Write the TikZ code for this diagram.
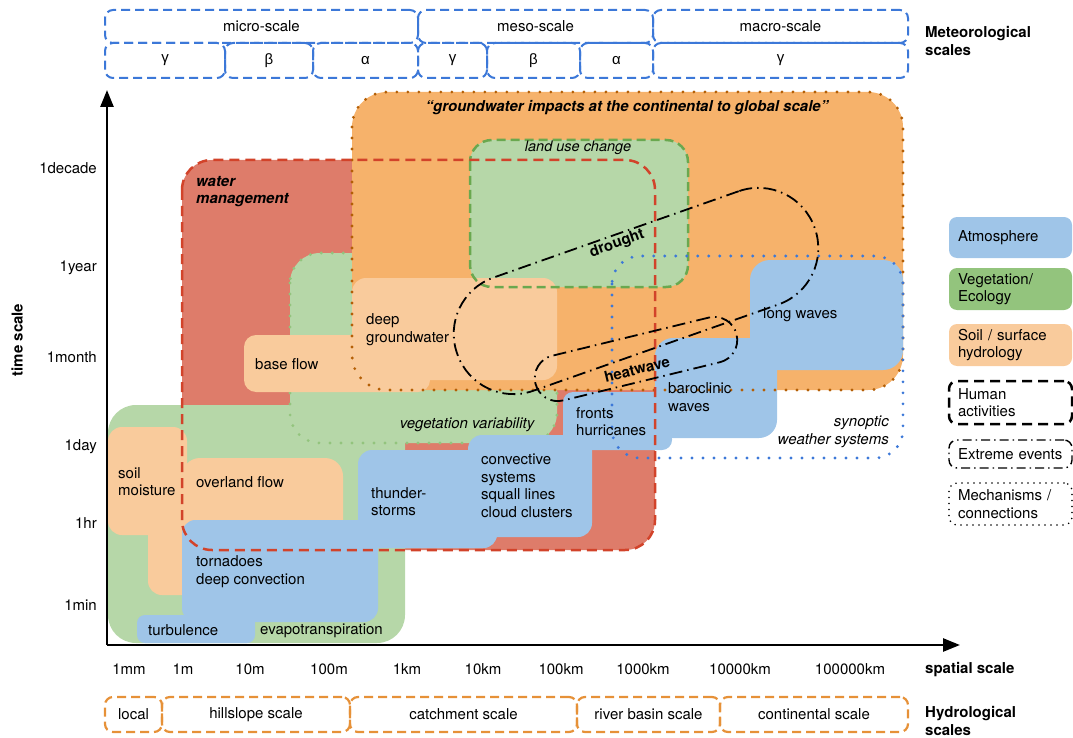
\documentclass[tikz,border=0pt]{standalone}
\usepackage{fontspec}
\setmainfont{TeX Gyre Heros}
\newfontfamily\greekfont{Liberation Sans}
\usetikzlibrary{arrows.meta}

\definecolor{atmo}{HTML}{9FC5E8}
\definecolor{vege}{HTML}{B6D7A8}
\definecolor{vegeleg}{HTML}{93C47D}
\definecolor{soil}{HTML}{F9CB9C}
\definecolor{gwfill}{HTML}{F6B26B}
\definecolor{wmfill}{HTML}{DE7C6A}
\definecolor{wmline}{HTML}{D2432A}
\definecolor{luline}{HTML}{6AA84F}
\definecolor{gwline}{HTML}{B45F06}
\definecolor{metline}{HTML}{3C78D8}
\definecolor{hydline}{HTML}{E69138}

\begin{document}
\begin{tikzpicture}[x=1pt,y=-1pt,font=\fontsize{15}{17.5}\selectfont]
	\tikzstyle{metbox}=[draw=metline, line width=2pt, dash pattern=on 9pt off 5pt, rounded corners=8pt, inner sep=0pt]
	\tikzstyle{hydbox}=[draw=hydline, line width=2.2pt, dash pattern=on 9pt off 5pt, rounded corners=8pt, inner sep=0pt, minimum height=35pt]
	\tikzstyle{legbox}=[rounded corners=8pt, inner xsep=9pt, inner ysep=0pt, text width=105pt, align=left]
	\tikzstyle{lbl}=[inner sep=0pt, anchor=west, align=left]
	\tikzstyle{tick}=[inner sep=0pt]
	\tikzstyle{axis}=[line width=2.6pt, -{Triangle[length=17pt,width=13pt]}]
	\tikzstyle{humanline}=[line width=2.5pt, dash pattern=on 10pt off 6pt]
	\tikzstyle{mechline}=[line width=3.2pt, line cap=round, dash pattern=on 0pt off 11pt]
	\tikzstyle{extremeline}=[draw=black, line width=1.8pt, dash pattern=on 13pt off 5pt on 1.5pt off 5pt]

	\useasboundingbox (0,0) rectangle (1073,738);

	% meteorological scales
	\node[metbox, minimum width=313pt, minimum height=33pt] (micro) at (261.5,26.5) {micro-scale};
	\node[metbox, minimum width=235pt, minimum height=33pt] (meso) at (535.5,26.5) {meso-scale};
	\node[metbox, minimum width=255pt, minimum height=33pt] (macro) at (780.5,26.5) {macro-scale};
	\node[metbox, minimum width=120pt, minimum height=35pt] (microg) at (165,60.5) {\greekfont γ};
	\node[metbox, minimum width=88pt, minimum height=35pt] (microb) at (269,60.5) {\greekfont β};
	\node[metbox, minimum width=105pt, minimum height=35pt] (microa) at (365.5,60.5) {\greekfont α};
	\node[metbox, minimum width=69pt, minimum height=35pt] (mesog) at (452.5,60.5) {\greekfont γ};
	\node[metbox, minimum width=93pt, minimum height=35pt] (mesob) at (533.5,60.5) {\greekfont β};
	\node[metbox, minimum width=73pt, minimum height=35pt] (mesoa) at (616.5,60.5) {\greekfont α};
	\node[metbox, minimum width=255pt, minimum height=35pt] (macrog) at (780.5,60.5) {\greekfont γ};
	\node[lbl, font=\fontsize{15}{17.5}\selectfont\bfseries] (metlabel) at (925,41) {Meteorological\\scales};

	% water management (fill)
	\fill[wmfill, rounded corners=30pt] (182,160) rectangle (655,550);
	% vegetation
	\fill[vege, rounded corners=28pt] (108,405) rectangle (405,643);
	\draw[vegeleg, mechline, fill=vege, rounded corners=30pt] (290,253) rectangle (557,443);
	% groundwater impacts (fill)
	\fill[gwfill, rounded corners=35pt] (352,92) rectangle (903,390);
	\fill[vege, rounded corners=22pt] (470,140) rectangle (688,287);
	% soil / surface hydrology
	\fill[soil, rounded corners=14pt] (352,278) rectangle (557,380);
	\fill[soil, rounded corners=12pt] (244,335) rectangle (430,392);
	\fill[soil, rounded corners=14pt] (108,427) rectangle (187,535);
	\fill[soil, rounded corners=14pt] (148,480) rectangle (200,595);
	\fill[soil, rounded corners=18pt] (182,458) rectangle (343,540);
	% atmosphere
	\fill[atmo, rounded corners=8pt] (137,615) rectangle (255,643);
	\fill[atmo, rounded corners=14pt] (182,520) rectangle (378,622);
	\fill[atmo, rounded corners=14pt] (182,520) rectangle (497,548);
	\fill[atmo, rounded corners=14pt] (358,450) rectangle (497,548);
	\fill[atmo, rounded corners=14pt] (468,435) rectangle (592,537);
	\fill[atmo, rounded corners=10pt] (563,392) rectangle (672,450);
	\fill[atmo, rounded corners=18pt] (655,338) rectangle (777,438);
	\fill[atmo, rounded corners=20pt] (750,260) rectangle (903,370);

	% borders
	\draw[gwline, mechline, rounded corners=35pt] (352,92) rectangle (903,390);
	\draw[luline, line width=2.5pt, dash pattern=on 9pt off 5pt, rounded corners=22pt] (470,140) rectangle (688,287);
	\draw[wmline, humanline, rounded corners=30pt] (182,160) rectangle (655,550);
	\draw[metline, mechline, rounded corners=28pt] (612,256) rectangle (903,458);
	\node[extremeline, rotate=19.4, minimum width=379pt, minimum height=120pt, rounded corners=59.5pt, inner sep=0pt] (drought) at (636,291) {};
	\node[extremeline, rotate=13.7, minimum width=207pt, minimum height=46pt, rounded corners=22.8pt, inner sep=0pt] (heatwave) at (636,359) {};

	% region labels
	\node[tick, font=\fontsize{15}{17.5}\selectfont\bfseries\itshape] (gwlabel) at (627,108) {“groundwater impacts at the continental to global scale”};
	\node[lbl, font=\fontsize{15}{17.5}\selectfont\bfseries\itshape] (wmlabel) at (196,191.5) {water\\management};
	\node[tick, font=\fontsize{14.5}{17}\selectfont\itshape] (lulabel) at (578,148) {land use change};
	\node[tick, rotate=19.4, font=\fontsize{15}{17.5}\selectfont\bfseries] (droughtlabel) at (617,244) {drought};
	\node[tick, rotate=13.7, font=\fontsize{15}{17.5}\selectfont\bfseries] (heatlabel) at (637,369) {heatwave};
	\node[lbl] (deepgw) at (366,329.5) {deep\\groundwater};
	\node[lbl] (baseflow) at (255,364) {base flow};
	\node[lbl] (longwaves) at (763,315) {long waves};
	\node[lbl] (baroclinic) at (668,397) {baroclinic\\waves};
	\node[lbl] (fronts) at (576,421.5) {fronts\\hurricanes};
	\node[tick, anchor=east, align=right, font=\fontsize{15}{17.5}\selectfont\itshape] (synoptic) at (889,432) {synoptic\\weather systems};
	\node[tick, font=\fontsize{15}{17.5}\selectfont\itshape] (veglabel) at (467,425) {vegetation variability};
	\node[lbl] (soilmoist) at (118,481.5) {soil\\moisture};
	\node[lbl] (overland) at (196,482) {overland flow};
	\node[lbl] (thunder) at (371,501.5) {thunder-\\storms};
	\node[lbl] (convective) at (481,486) {convective\\systems\\squall lines\\cloud clusters};
	\node[lbl] (tornado) at (196,571.5) {tornadoes\\deep convection};
	\node[lbl] (turbulence) at (148,630) {turbulence};
	\node[lbl] (evapo) at (260,631) {evapotranspiration};

	% axes
	\coordinate (origin) at (107,645);
	\coordinate (timetop) at (107,90);
	\coordinate (spaceend) at (960,645);
	\draw[axis] (origin) -- (timetop);
	\draw[axis] (origin) -- (spaceend);
	\node[tick, rotate=90, font=\fontsize{15}{17.5}\selectfont\bfseries] (timelabel) at (17,340) {time scale};
	\node[tick, anchor=east] (tdecade) at (97,168) {1decade};
	\node[tick, anchor=east] (tyear) at (97,268) {1year};
	\node[tick, anchor=east] (tmonth) at (97,357) {1month};
	\node[tick, anchor=east] (tday) at (97,447) {1day};
	\node[tick, anchor=east] (thr) at (97,523) {1hr};
	\node[tick, anchor=east] (tmin) at (97,605) {1min};
	\node[tick] (smm) at (129,669) {1mm};
	\node[tick] (sm) at (183,669) {1m};
	\node[tick] (s10m) at (250,669) {10m};
	\node[tick] (s100m) at (329,669) {100m};
	\node[tick] (skm) at (407,669) {1km};
	\node[tick] (s10km) at (483,669) {10km};
	\node[tick] (s100km) at (561,669) {100km};
	\node[tick] (s1000km) at (643,669) {1000km};
	\node[tick] (s10000km) at (740,669) {10000km};
	\node[tick] (s100000km) at (850,669) {100000km};
	\node[lbl, font=\fontsize{15}{17.5}\selectfont\bfseries] (spacelabel) at (925,670) {spatial scale};

	% hydrological scales
	\node[hydbox, minimum width=57pt] (local) at (133.5,714.5) {local};
	\node[hydbox, minimum width=188pt] (hillslope) at (256,714.5) {hillslope scale};
	\node[hydbox, minimum width=227pt] (catchment) at (463.5,714.5) {catchment scale};
	\node[hydbox, minimum width=143pt] (riverbasin) at (648.5,714.5) {river basin scale};
	\node[hydbox, minimum width=188pt] (continental) at (814,714.5) {continental scale};
	\node[lbl, font=\fontsize{15}{17.5}\selectfont\bfseries] (hydlabel) at (925,721) {Hydrological\\scales};

	% legend
	\node[legbox, fill=atmo, minimum height=41pt] (legatmo) at (1010.5,237.5) {Atmosphere};
	\node[legbox, fill=vegeleg, minimum height=42pt] (legvege) at (1010.5,289) {Vegetation/\\Ecology};
	\node[legbox, fill=soil, minimum height=42pt] (legsoil) at (1010.5,345) {Soil / surface\\hydrology};
	\node[legbox, draw=black, humanline, minimum height=43pt] (leghuman) at (1010.5,402.5) {Human\\activities};
	\node[legbox, draw=black, line width=1.4pt, dash pattern=on 9pt off 4pt on 1.5pt off 4pt, minimum height=28pt] (legextreme) at (1010.5,454) {Extreme events};
	\node[legbox, draw=black, line width=1.8pt, line cap=round, dash pattern=on 0pt off 6pt, minimum height=42pt] (legmech) at (1010.5,504) {Mechanisms /\\connections};
\end{tikzpicture}
\end{document}
